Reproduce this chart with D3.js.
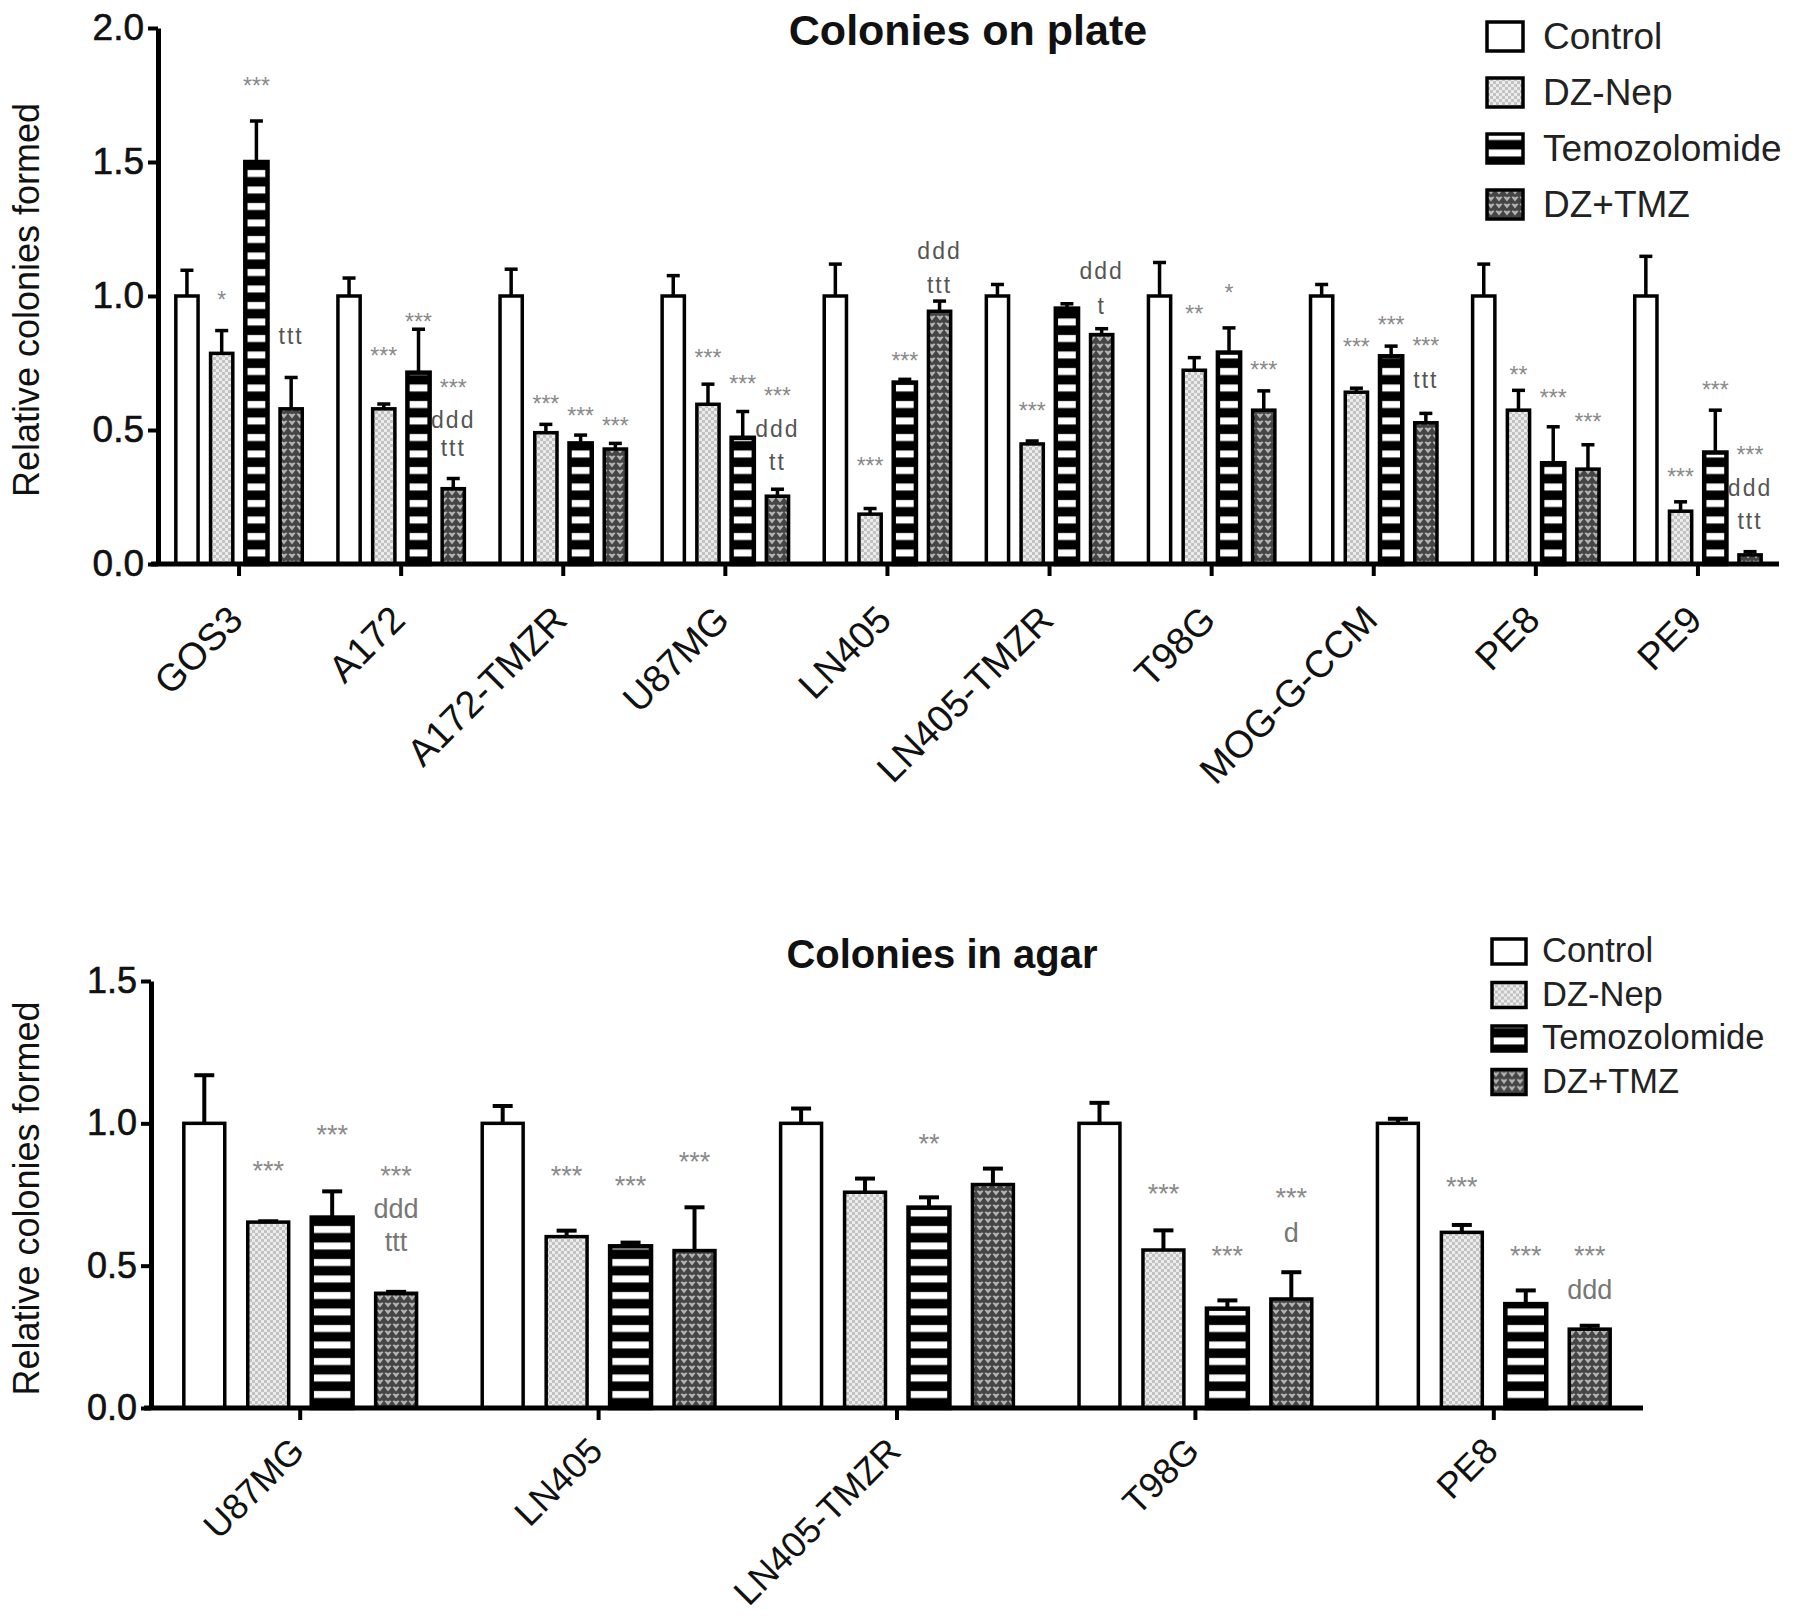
<!DOCTYPE html>
<html>
<head>
<meta charset="utf-8">
<script src="https://cdn.jsdelivr.net/npm/d3@7"></script>
<style>
  body { margin: 0; background: #fff; }
  text { font-family: "Liberation Sans", Arial, sans-serif; }
</style>
</head>
<body>
<div id="chart"></div>
<script>
// ---- data ----
var seriesNames = ["Control", "DZ-Nep", "Temozolomide", "DZ+TMZ"];

// colonies on plate
var plateCells = ["GOS3", "A172", "A172-TMZR", "U87MG", "LN405", "LN405-TMZR", "T98G", "MOG-G-CCM", "PE8", "PE9"];
var plateControl    = [1, 1, 1, 1, 1, 1, 1, 1, 1, 1];
var plateControlErr = [0.096, 0.067, 0.10, 0.076, 0.119, 0.043, 0.125, 0.043, 0.119, 0.148];
var plateDZ         = [0.786, 0.579, 0.49, 0.596, 0.186, 0.448, 0.723, 0.641, 0.574, 0.197];
var plateDZErr      = [0.085, 0.018, 0.031, 0.075, 0.021, 0.011, 0.047, 0.015, 0.074, 0.035];
var plateTMZ        = [1.5, 0.714, 0.45, 0.471, 0.677, 0.953, 0.789, 0.775, 0.376, 0.416];
var plateTMZErr     = [0.153, 0.162, 0.031, 0.098, 0.012, 0.018, 0.092, 0.038, 0.136, 0.158];
var plateCombo      = [0.579, 0.281, 0.429, 0.253, 0.943, 0.856, 0.574, 0.527, 0.354, 0.034];
var plateComboErr   = [0.117, 0.038, 0.021, 0.026, 0.038, 0.022, 0.072, 0.035, 0.091, 0.012];
var plateTicks = [0, 0.5, 1, 1.5, 2];
// [cell, series, label, level]
var plateNotes = [
  ["GOS3", 1, "*", 1.007], ["GOS3", 2, "***", 1.807], ["GOS3", 3, "ttt", 0.85],
  ["A172", 1, "***", 0.796], ["A172", 2, "***", 0.924], ["A172", 3, "***", 0.679], ["A172", 3, "ddd", 0.54], ["A172", 3, "ttt", 0.433],
  ["A172-TMZR", 1, "***", 0.617], ["A172-TMZR", 2, "***", 0.574], ["A172-TMZR", 3, "***", 0.536],
  ["U87MG", 1, "***", 0.79], ["U87MG", 2, "***", 0.693], ["U87MG", 3, "***", 0.65], ["U87MG", 3, "ddd", 0.504], ["U87MG", 3, "tt", 0.383],
  ["LN405", 1, "***", 0.386], ["LN405", 2, "***", 0.778], ["LN405", 3, "ddd", 1.168], ["LN405", 3, "ttt", 1.043],
  ["LN405-TMZR", 1, "***", 0.591], ["LN405-TMZR", 3, "ddd", 1.096], ["LN405-TMZR", 3, "t", 0.964],
  ["T98G", 1, "**", 0.953], ["T98G", 2, "*", 1.033], ["T98G", 3, "***", 0.746],
  ["MOG-G-CCM", 1, "***", 0.832], ["MOG-G-CCM", 2, "***", 0.914], ["MOG-G-CCM", 3, "***", 0.835], ["MOG-G-CCM", 3, "ttt", 0.687],
  ["PE8", 1, "**", 0.727], ["PE8", 2, "***", 0.641], ["PE8", 3, "***", 0.551],
  ["PE9", 1, "***", 0.347], ["PE9", 2, "***", 0.67], ["PE9", 3, "***", 0.43], ["PE9", 3, "ddd", 0.283], ["PE9", 3, "ttt", 0.161]
];

// colonies in agar
var agarCells = ["U87MG", "LN405", "LN405-TMZR", "T98G", "PE8"];
var agarControl    = [1, 1, 1, 1, 1];
var agarControlErr = [0.169, 0.061, 0.052, 0.072, 0.016];
var agarDZ         = [0.653, 0.602, 0.758, 0.555, 0.617];
var agarDZErr      = [0.003, 0.021, 0.048, 0.069, 0.026];
var agarTMZ        = [0.669, 0.568, 0.704, 0.349, 0.365];
var agarTMZErr     = [0.092, 0.013, 0.036, 0.029, 0.048];
var agarCombo      = [0.403, 0.553, 0.785, 0.383, 0.277];
var agarComboErr   = [0.005, 0.152, 0.056, 0.094, 0.012];
var agarTicks = [0, 0.5, 1, 1.5];
var agarNotes = [
  ["U87MG", 1, "***", 0.858], ["U87MG", 2, "***", 0.984], ["U87MG", 3, "***", 0.842], ["U87MG", 3, "ddd", 0.702], ["U87MG", 3, "ttt", 0.584],
  ["LN405", 1, "***", 0.842], ["LN405", 2, "***", 0.806], ["LN405", 3, "***", 0.89],
  ["LN405-TMZR", 2, "**", 0.952],
  ["T98G", 1, "***", 0.778], ["T98G", 2, "***", 0.558], ["T98G", 3, "***", 0.762], ["T98G", 3, "d", 0.619],
  ["PE8", 1, "***", 0.801], ["PE8", 2, "***", 0.559], ["PE8", 3, "***", 0.559], ["PE8", 3, "ddd", 0.418]
];

var svg = d3.select("#chart").append("svg")
	.attr("width", 1795)
	.attr("height", 1616);

// fill patterns
var defs = svg.append("defs");

var pDZ = defs.append("pattern").attr("id", "pat-dz")
	.attr("patternUnits", "userSpaceOnUse").attr("width", 6).attr("height", 6);
pDZ.append("rect").attr("width", 6).attr("height", 6).attr("fill", "#ececec");
pDZ.append("rect").attr("width", 3).attr("height", 3).attr("fill", "#c2c2c2");
pDZ.append("rect").attr("x", 3).attr("y", 3).attr("width", 3).attr("height", 3).attr("fill", "#c2c2c2");

var pTMZ = defs.append("pattern").attr("id", "pat-tmz")
	.attr("patternUnits", "userSpaceOnUse").attr("width", 10).attr("height", 16.5);
pTMZ.append("rect").attr("width", 10).attr("height", 16.5).attr("fill", "#000");
pTMZ.append("rect").attr("y", 5).attr("width", 10).attr("height", 7).attr("fill", "#fff");

var pCombo = defs.append("pattern").attr("id", "pat-combo")
	.attr("patternUnits", "userSpaceOnUse").attr("width", 8).attr("height", 7);
pCombo.append("rect").attr("width", 8).attr("height", 7).attr("fill", "#454545");
pCombo.append("path").attr("d", "M0.5,1 Q2.3,-0.3 4,1.6 Q5.7,-0.3 7.5,1 L4,5.6 Z").attr("fill", "#b4b4b4");

var fills = ["#fff", "url(#pat-dz)", "url(#pat-tmz)", "url(#pat-combo)"];

function drawPanel(cfg) {
	var g = svg.append("g");

	var x0 = d3.scaleBand().domain(cfg.cells).range([cfg.left, cfg.right])
		.paddingInner(0.22).paddingOuter(0.11);
	var x1 = d3.scaleBand().domain(d3.range(seriesNames.length)).range([0, x0.bandwidth()])
		.paddingInner(0.36);
	var y = d3.scaleLinear().domain([0, cfg.ymax]).range([cfg.bottom, cfg.top]);

	var rows = [];
	cfg.cells.forEach(function (c, i) {
		cfg.means.forEach(function (m, s) {
			rows.push({cell: c, s: s, v: m[i], e: cfg.errs[s][i]});
		});
	});

	// bars
	g.selectAll("rect.bar").data(rows).enter().append("rect")
		.attr("class", "bar")
		.attr("x", function (d) { return x0(d.cell) + x1(d.s); })
		.attr("y", function (d) { return y(d.v); })
		.attr("width", x1.bandwidth())
		.attr("height", function (d) { return y(0) - y(d.v); })
		.attr("fill", function (d) { return fills[d.s]; })
		.attr("stroke", "#000")
		.attr("stroke-width", function (d) { return d.s == 2 ? cfg.barStroke + 1 : cfg.barStroke; });

	// error bars (upper only)
	var eb = g.selectAll("g.err").data(rows).enter().append("g").attr("class", "err")
		.attr("stroke", "#000").attr("stroke-width", cfg.errStroke);
	eb.append("line")
		.attr("x1", function (d) { return x0(d.cell) + x1(d.s) + x1.bandwidth() / 2; })
		.attr("x2", function (d) { return x0(d.cell) + x1(d.s) + x1.bandwidth() / 2; })
		.attr("y1", function (d) { return y(d.v); })
		.attr("y2", function (d) { return y(d.v + d.e); });
	eb.append("line")
		.attr("x1", function (d) { return x0(d.cell) + x1(d.s) + x1.bandwidth() / 2 - cfg.capW / 2; })
		.attr("x2", function (d) { return x0(d.cell) + x1(d.s) + x1.bandwidth() / 2 + cfg.capW / 2; })
		.attr("y1", function (d) { return y(d.v + d.e); })
		.attr("y2", function (d) { return y(d.v + d.e); });

	// significance marks
	g.selectAll("text.note").data(cfg.notes).enter().append("text")
		.attr("class", "note")
		.attr("x", function (d) { return x0(d[0]) + x1(d[1]) + x1.bandwidth() / 2; })
		.attr("y", function (d) { return y(d[3]); })
		.attr("dy", function (d) { return d[2].charAt(0) == "*" ? "0.6em" : "0.36em"; })
		.attr("text-anchor", "middle")
		.style("font-size", function (d) { return (d[2].charAt(0) == "*" ? cfg.starSize : cfg.noteSize) + "px"; })
		.style("letter-spacing", function (d) { return d[2].charAt(0) == "*" ? "0px" : cfg.noteSpacing + "px"; })
		.attr("fill", function (d) { return d[2].charAt(0) == "*" ? "#8a8a8a" : cfg.noteColor; })
		.text(function (d) { return d[2]; });

	// y axis
	var yAxis = g.append("g")
		.attr("transform", "translate(" + cfg.left + ",0)")
		.call(d3.axisLeft(y).tickValues(cfg.ticks).tickFormat(d3.format(".1f"))
			.tickSize(10).tickSizeOuter(0).tickPadding(4));
	yAxis.select(".domain").attr("stroke-width", 5);
	yAxis.selectAll(".tick line").attr("stroke-width", 4);
	yAxis.selectAll(".tick text")
		.style("font-family", "'Liberation Sans', Arial, sans-serif")
		.style("font-size", cfg.tickSize + "px")
		.attr("fill", "#111")
		.attr("stroke", "#111").attr("stroke-width", 0.6);

	// x axis
	var xAxis = g.append("g")
		.attr("transform", "translate(0," + cfg.bottom + ")")
		.call(d3.axisBottom(x0).tickSize(12).tickSizeOuter(0).tickFormat(""));
	xAxis.select(".domain").attr("stroke-width", 5)
		.attr("d", "M" + (cfg.left - 7) + ",0H" + cfg.right);
	xAxis.selectAll(".tick line").attr("stroke-width", 4);

	g.selectAll("text.cell").data(cfg.cells).enter().append("text")
		.attr("class", "cell")
		.attr("transform", function (d) {
			return "translate(" + (x0(d) + x0.bandwidth() / 2 + 6) + "," + (cfg.bottom + cfg.labelDrop) + ") rotate(-45)";
		})
		.attr("text-anchor", "end")
		.style("font-size", cfg.labelSize + "px")
		.attr("fill", "#111")
		.text(function (d) { return d; });

	// axis title
	g.append("text")
		.attr("transform", "translate(39," + ((cfg.top + cfg.bottom) / 2 + 4) + ") rotate(-90)")
		.attr("text-anchor", "middle")
		.style("font-size", "36px")
		.attr("fill", "#111")
		.text("Relative colonies formed");

	// chart title
	g.append("text")
		.attr("x", cfg.titleX)
		.attr("y", cfg.titleY)
		.attr("text-anchor", "middle")
		.style("font-size", cfg.titleSize + "px")
		.style("font-weight", "bold")
		.attr("fill", "#111")
		.text(cfg.title);

	// legend
	var lg = g.selectAll("g.legend").data(seriesNames).enter().append("g")
		.attr("class", "legend")
		.attr("transform", function (d, i) { return "translate(" + cfg.legX + "," + (cfg.legY + i * cfg.legStep) + ")"; });
	lg.append("rect")
		.attr("x", 0).attr("y", -cfg.boxH + 2)
		.attr("width", cfg.boxW).attr("height", cfg.boxH)
		.attr("fill", function (d, i) { return fills[i]; })
		.attr("stroke", "#000").attr("stroke-width", 3.5);
	lg.append("text")
		.attr("x", cfg.legTextX)
		.attr("y", 0)
		.style("font-size", cfg.legSize + "px")
		.attr("fill", "#222")
		.text(function (d) { return d; });
}

drawPanel({
	cells: plateCells,
	means: [plateControl, plateDZ, plateTMZ, plateCombo],
	errs: [plateControlErr, plateDZErr, plateTMZErr, plateComboErr],
	notes: plateNotes, ticks: plateTicks, ymax: 2,
	left: 158, right: 1779, top: 28, bottom: 564,
	barStroke: 3.5, errStroke: 3.5, capW: 13,
	starSize: 23, noteSize: 23, noteSpacing: 2, noteColor: "#555",
	tickSize: 37, labelSize: 38, labelDrop: 58,
	title: "Colonies on plate", titleX: 968, titleY: 45, titleSize: 43,
	legX: 1487, legY: 49, legStep: 56, boxW: 36, boxH: 29, legSize: 37, legTextX: 56
});

drawPanel({
	cells: agarCells,
	means: [agarControl, agarDZ, agarTMZ, agarCombo],
	errs: [agarControlErr, agarDZErr, agarTMZErr, agarComboErr],
	notes: agarNotes, ticks: agarTicks, ymax: 1.5,
	left: 151, right: 1643, top: 981, bottom: 1408,
	barStroke: 3.5, errStroke: 4, capW: 20,
	starSize: 27, noteSize: 27, noteSpacing: 0, noteColor: "#777",
	tickSize: 36, labelSize: 36, labelDrop: 45,
	title: "Colonies in agar", titleX: 942, titleY: 968, titleSize: 40,
	legX: 1492, legY: 962, legStep: 43.5, boxW: 34, boxH: 25, legSize: 34.5, legTextX: 50
});
</script>
</body>
</html>
